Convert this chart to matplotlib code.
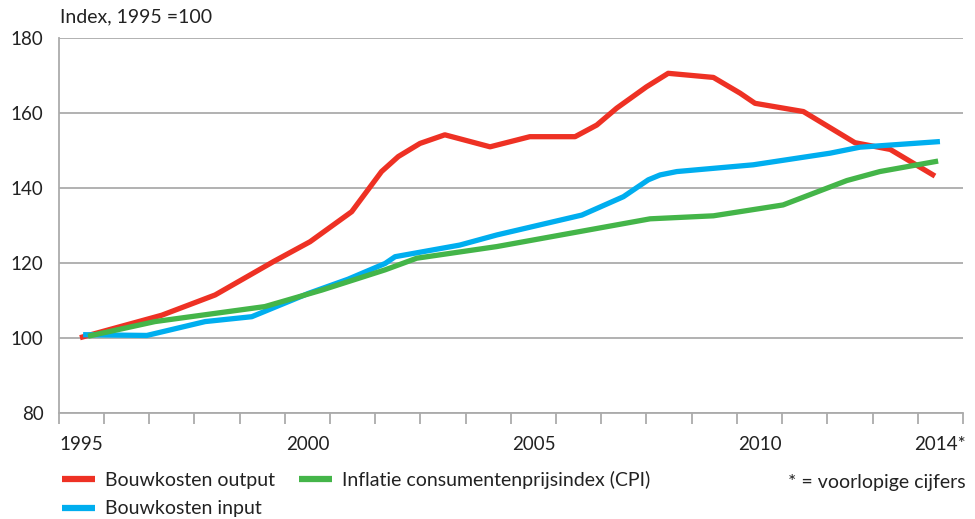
import matplotlib
matplotlib.use("Agg")
import matplotlib.pyplot as plt
from matplotlib.ticker import FixedLocator, NullFormatter

plt.rcParams['font.family'] = ['Lato', 'DejaVu Sans']

# Data (x in years, band centre = year)
out_x = [1994.97, 1996.78, 1997.96, 1999.25, 2000.06, 2000.98, 2001.64, 2002.01,
         2002.49, 2003.04, 2004.04, 2004.92, 2005.92, 2006.40, 2006.84, 2007.50,
         2007.98, 2008.98, 2009.57, 2009.90, 2010.97, 2012.11, 2012.89, 2013.88]
out_y = [100.0, 106.0, 111.4, 120.3, 125.6, 133.6, 144.3, 148.3,
         151.8, 154.1, 150.9, 153.6, 153.6, 156.7, 161.2, 166.9,
         170.5, 169.4, 165.2, 162.5, 160.3, 152.0, 150.2, 143.1]

inp_x = [1995.04, 1996.45, 1997.74, 1998.77, 2000.02, 2000.90, 2001.72, 2001.94,
         2003.37, 2004.19, 2006.07, 2006.99, 2007.54, 2007.80, 2008.17, 2009.86,
         2011.56, 2012.22, 2013.99]
inp_y = [100.8, 100.6, 104.3, 105.6, 111.8, 115.6, 119.8, 121.6,
         124.7, 127.4, 132.7, 137.6, 142.1, 143.4, 144.3, 146.1,
         149.2, 150.8, 152.3]

cpi_x = [1995.15, 1996.63, 1999.06, 2000.32, 2001.72, 2002.42, 2004.19, 2007.58,
         2008.98, 2010.52, 2011.93, 2012.66, 2013.95]
cpi_y = [100.4, 104.3, 108.3, 112.7, 118.1, 121.2, 124.3, 131.7,
         132.5, 135.4, 141.9, 144.3, 147.1]

series_labels = ["Bouwkosten output", "Bouwkosten input",
                 "Inflatie consumentenprijsindex (CPI)"]
colors = ["#EE3124", "#00AEEF", "#44B549"]

year_labels = ["1995", "2000", "2005", "2010", "2014*"]
year_label_pos = [1995, 2000, 2005, 2010, 2014]
y_ticks = [80, 100, 120, 140, 160, 180]

fig = plt.figure(figsize=(9.75, 5.19), dpi=100)
ax = fig.add_axes([0.0602, 0.2048, 0.9275, 0.7226])

grid_c = "#ABABAB"
text_c = "#222222"
lw = 3.8
fs = 14

l1, = ax.plot(out_x, out_y, color=colors[0], lw=lw, solid_joinstyle='round', solid_capstyle='butt', zorder=3)
l2, = ax.plot(inp_x, inp_y, color=colors[1], lw=lw, solid_joinstyle='round', solid_capstyle='butt', zorder=4)
l3, = ax.plot(cpi_x, cpi_y, color=colors[2], lw=lw, solid_joinstyle='round', solid_capstyle='butt', zorder=5)

ax.set_xlim(1994.5, 2014.5)
ax.set_ylim(80, 180)

for s in ['top', 'right']:
    ax.spines[s].set_visible(False)
for s in ['left', 'bottom']:
    ax.spines[s].set_color(grid_c)
    ax.spines[s].set_linewidth(1.3)

ax.set_yticks(y_ticks)
ax.set_yticklabels([str(v) for v in y_ticks])
ax.tick_params(axis='y', length=0, pad=11, labelsize=13.5, labelcolor=text_c)
ax.yaxis.grid(True, color=grid_c, lw=1.3)
ax.set_axisbelow(True)

ax.set_xticks(year_label_pos)
ax.set_xticklabels(year_labels)
ax.tick_params(axis='x', which='major', length=0, pad=17, labelsize=13.5, labelcolor=text_c)
ax.xaxis.set_minor_locator(FixedLocator([1994.5 + i for i in range(21)]))
ax.xaxis.set_minor_formatter(NullFormatter())
ax.tick_params(axis='x', which='minor', length=8, width=1.3, color=grid_c)

fig.text(0.0615, 0.967, "Index, 1995 =100", fontsize=fs, color=text_c, va='center', ha='left')

leg = fig.legend([l1, l2, l3], series_labels, ncol=2, loc='upper left',
                 bbox_to_anchor=(0.0636, 0.093), frameon=False, fontsize=fs,
                 handlelength=1.7, handletextpad=0.5, columnspacing=1.25,
                 labelspacing=0.6, borderaxespad=0, borderpad=0)
for t in leg.get_texts():
    t.set_color(text_c)
for h in leg.legend_handles:
    h.set_linewidth(4.5)

fig.text(0.99, 0.071, "* = voorlopige cijfers", fontsize=fs, color=text_c, ha='right', va='center')

fig.savefig("out.png", dpi=100)
